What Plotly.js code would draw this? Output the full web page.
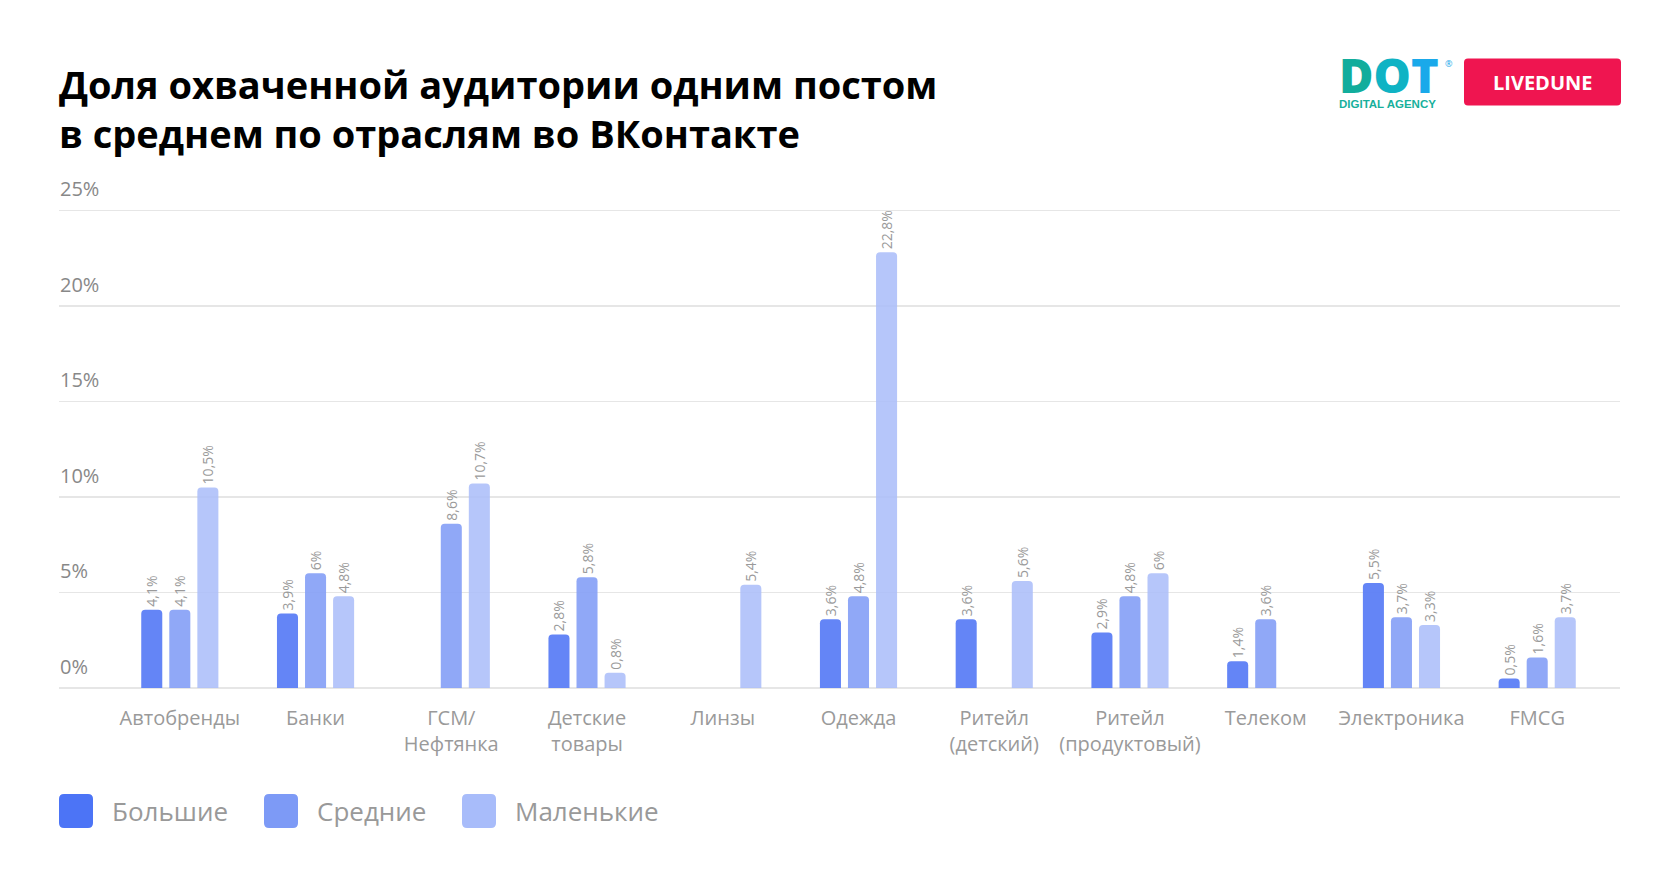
<!DOCTYPE html>
<html>
<head>
<meta charset="utf-8">
<script src="https://cdn.plot.ly/plotly-3.0.1.min.js"></script>
<style>
  html, body { margin: 0; padding: 0; background: #fff; }
  #chart { width: 1680px; height: 887px; }
</style>
</head>
<body>
<div id="chart"></div>
<script>
const categories = ['Автобренды', 'Банки', 'ГСМ/<br>Нефтянка', 'Детские<br>товары', 'Линзы', 'Одежда',
    'Ритейл<br>(детский)', 'Ритейл<br>(продуктовый)', 'Телеком', 'Электроника', 'FMCG'];
const seriesNames = ['Большие', 'Средние', 'Маленькие'];
const bigValues = [4.1, 3.9, null, 2.8, null, 3.6, 3.6, 2.9, 1.4, 5.5, 0.5];
const midValues = [4.1, 6, 8.6, 5.8, null, 4.8, null, 4.8, 3.6, 3.7, 1.6];
const smallValues = [10.5, 4.8, 10.7, 0.8, 5.4, 22.8, 5.6, 6, null, 3.3, 3.7];
const yTicks = [0, 5, 10, 15, 20, 25];

const barColors = ['rgba(88,124,245,0.93)', 'rgba(132,158,246,0.9)', 'rgba(172,190,249,0.88)'];
const legendColors = ['#4c74f6', '#7d9af6', '#a8bcfa'];

// plot area in pixels (extra room above 25% so its label is drawn)
const yMax = 28;
const L = 59, R = 1620, B = 688;
const unit = (688 - 210) / 25;
const T = B - yMax * unit;
const px = x => (x - L) / (R - L);
const py = y => (B - y) / (B - T);

const fmt = v => v == null ? '' : String(v).replace('.', ',') + '%';

const traces = [bigValues, midValues, smallValues].map((vals, i) => ({
    type: 'bar',
    name: seriesNames[i],
    x: categories,
    y: vals,
    text: vals.map(fmt),
    textposition: 'outside',
    textangle: -90,
    constraintext: 'none',
    cliponaxis: false,
    outsidetextfont: { family: 'Open Sans', size: 14, color: '#9a9a9a' },
    marker: { color: barColors[i], cornerradius: 4 },
    hoverinfo: 'x+y',
    showlegend: false
}));

function roundRect(x0, y0, x1, y1, r) {
    // pixel coords -> paper path
    const X = v => px(v), Y = v => py(v);
    return 'M' + X(x0 + r) + ',' + Y(y0) +
        ' L' + X(x1 - r) + ',' + Y(y0) +
        ' Q' + X(x1) + ',' + Y(y0) + ' ' + X(x1) + ',' + Y(y0 + r) +
        ' L' + X(x1) + ',' + Y(y1 - r) +
        ' Q' + X(x1) + ',' + Y(y1) + ' ' + X(x1 - r) + ',' + Y(y1) +
        ' L' + X(x0 + r) + ',' + Y(y1) +
        ' Q' + X(x0) + ',' + Y(y1) + ' ' + X(x0) + ',' + Y(y1 - r) +
        ' L' + X(x0) + ',' + Y(y0 + r) +
        ' Q' + X(x0) + ',' + Y(y0) + ' ' + X(x0 + r) + ',' + Y(y0) + ' Z';
}

const legendX = [59, 264, 462];
const shapes = [];
const annotations = [];

legendX.forEach((x, i) => {
    shapes.push({
        type: 'path', xref: 'paper', yref: 'paper',
        path: roundRect(x, 794, x + 34, 828, 5),
        fillcolor: legendColors[i], line: { width: 0 }
    });
    annotations.push({
        xref: 'paper', yref: 'paper', x: px(x + 51), y: py(811),
        xanchor: 'left', yanchor: 'middle', showarrow: false,
        text: seriesNames[i],
        font: { family: 'Open Sans', size: 26, color: '#999999' }
    });
});

// LIVEDUNE badge
shapes.push({
    type: 'path', xref: 'paper', yref: 'paper',
    path: roundRect(1464, 58, 1621, 105, 4),
    fillcolor: '#ef1550', line: { width: 0 }
});
annotations.push({
    xref: 'paper', yref: 'paper', x: px(1542.5), y: py(82),
    xanchor: 'center', yanchor: 'middle', showarrow: false,
    text: '<b>LIVEDUNE</b>',
    font: { family: 'Open Sans', size: 20, color: '#ffffff' }
});
// DOT logo: big letters and the caption in one text block
annotations.push({
    xref: 'paper', yref: 'paper', x: px(1337), y: py(112),
    xanchor: 'left', yanchor: 'bottom', showarrow: false, align: 'left',
    text: '<span style="font-size:47px;font-weight:800;color:#12ad9c">D</span>' +
        '<span style="font-size:47px;font-weight:800;color:#0fb3c4">O</span>' +
        '<span style="font-size:47px;font-weight:800;color:#1aa9ea">T</span>' +
        '<br><span style="font-family:Liberation Sans;font-weight:bold">DIGITAL AGENCY</span>',
    font: { family: 'Open Sans', size: 11.5, color: '#17b09c' }
});
annotations.push({
    xref: 'paper', yref: 'paper', x: px(1443), y: py(63),
    xanchor: 'left', yanchor: 'middle', showarrow: false,
    text: '®', font: { family: 'Open Sans', size: 9, color: '#1aa9ea' }
});

const layout = {
    width: 1680, height: 887,
    margin: { l: L, r: 1680 - R, t: T, b: 887 - B, pad: 0 },
    paper_bgcolor: '#ffffff', plot_bgcolor: '#ffffff',
    font: { family: 'Open Sans', color: '#999999' },
    title: {
        text: 'Доля охваченной аудитории одним постом<br>в среднем по отраслям во ВКонтакте',
        x: 0, xref: 'paper', xanchor: 'left',
        y: 1 - 99 / 887, yref: 'container', yanchor: 'top',
        font: { family: 'Open Sans', size: 38, weight: 700, color: '#000000' }
    },
    barmode: 'group',
    bargap: 0.38,
    bargroupgap: 0.25,
    xaxis: {
        type: 'category',
        range: [-0.89, 10.61],
        showgrid: false, zeroline: false, showline: false,
        ticks: 'outside', ticklen: 12, tickcolor: 'rgba(0,0,0,0)',
        tickfont: { family: 'Open Sans', size: 20, color: '#9a9a9a' },
        fixedrange: true
    },
    yaxis: {
        range: [0, yMax],
        tickvals: yTicks,
        ticktext: yTicks.map(v => v + '%'),
        ticklabelposition: 'inside top',
        ticklabelshift: -7,
        ticklabelstandoff: -2,
        tickfont: { family: 'Open Sans', size: 20, color: '#888888' },
        showgrid: true, gridcolor: '#e6e6e6', gridwidth: 1.5,
        zeroline: true, zerolinecolor: '#e6e6e6', zerolinewidth: 1.5,
        showline: false, fixedrange: true
    },
    shapes: shapes,
    annotations: annotations
};

Plotly.newPlot('chart', traces, layout, { displayModeBar: false, staticPlot: true });
</script>
</body>
</html>
